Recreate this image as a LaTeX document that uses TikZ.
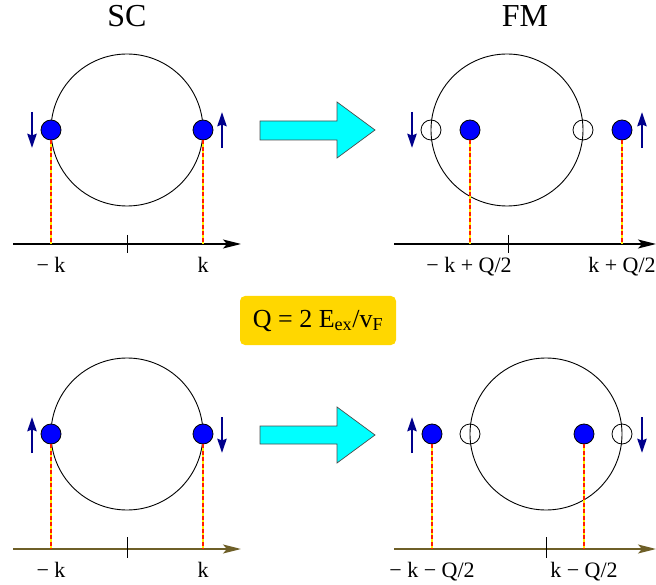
\documentclass[tikz,border=0pt]{standalone}
\usepackage{fontspec}
\setmainfont{Liberation Serif}
\usepackage{tikz}
\usetikzlibrary{arrows.meta,positioning}
\definecolor{spinblue}{RGB}{0,0,140}
\definecolor{ballblue}{RGB}{0,0,255}
\definecolor{gapgold}{RGB}{255,215,0}
\definecolor{axisolive}{RGB}{110,95,40}
\definecolor{dashred}{RGB}{255,30,0}
\definecolor{shiftcyan}{RGB}{0,255,255}

\begin{document}
\begin{tikzpicture}[x=1pt,y=-1pt,
  ball/.style={circle,draw=black,fill=ballblue,line width=0.8pt,
               minimum size=20pt,inner sep=0pt},
  hole/.style={circle,draw=black,line width=0.8pt,
               minimum size=20pt,inner sep=0pt},
  fermi/.style={draw=black,line width=0.9pt},
  spin/.style={-{Stealth[length=14pt,width=9pt,inset=1.5pt]},line width=2.8pt,spinblue},
  axis/.style={-{Stealth[length=18pt,width=9pt,inset=4pt]},line width=1.3pt},
  proj/.style={yellow,line width=1.8pt},
  projd/.style={dashred,line width=1.2pt,dash pattern=on 4pt off 2.5pt},
  bigarrow/.style={fill=shiftcyan,draw=black!70,line width=0.7pt},
  lab/.style={font=\fontsize{22}{24}\selectfont,anchor=base},
  ttl/.style={font=\fontsize{32}{36}\selectfont,anchor=base}
]
\useasboundingbox (0,0) rectangle (656,585);

% titles
\node[ttl] (sc) at (127,27) {SC};
\node[ttl] (fm) at (525,27) {FM};

% SC, upper
\draw[fermi] (127,130) circle (76);
\node[ball] (a1) at (51,130) {};
\node[ball] (a2) at (203,130) {};
\coordinate (ax1s) at (13,244);
\coordinate (ax1e) at (241,244);
\draw[axis] (ax1s) -- (ax1e);
\draw[line width=1pt] (127,235) -- (127,253);
\coordinate (a1p) at (51,244);
\coordinate (a2p) at (203,244);
\draw[proj] (a1.south) -- (a1p);
\draw[projd] (a1.south) -- (a1p);
\draw[proj] (a2.south) -- (a2p);
\draw[projd] (a2.south) -- (a2p);
\coordinate (s1a) at (32,112); \coordinate (s1b) at (32,148);
\coordinate (s2a) at (222,148); \coordinate (s2b) at (222,112);
\draw[spin] (s1a) -- (s1b);
\draw[spin] (s2a) -- (s2b);
\node[lab] (la1) at (51,273) {− k};
\node[lab] (la2) at (203,273) {k};

% shift arrow, upper
\draw[bigarrow] (260,121) -- (337,121) -- (337,102) -- (375,130)
  -- (337,158) -- (337,140) -- (260,140) -- cycle;

% FM, upper
\draw[fermi] (507,130) circle (76);
\node[hole] (h1) at (431,130) {};
\node[hole] (h2) at (583,130) {};
\node[ball] (b1) at (470,130) {};
\node[ball] (b2) at (622,130) {};
\coordinate (ax2s) at (394,244);
\coordinate (ax2e) at (656,244);
\draw[axis] (ax2s) -- (ax2e);
\draw[line width=1pt] (508,235) -- (508,253);
\coordinate (b1p) at (470,244);
\coordinate (b2p) at (622,244);
\draw[proj] (b1.south) -- (b1p);
\draw[projd] (b1.south) -- (b1p);
\draw[proj] (b2.south) -- (b2p);
\draw[projd] (b2.south) -- (b2p);
\coordinate (s3a) at (412,112); \coordinate (s3b) at (412,148);
\coordinate (s4a) at (642,148); \coordinate (s4b) at (642,112);
\draw[spin] (s3a) -- (s3b);
\draw[spin] (s4a) -- (s4b);
\node[lab] (lb1) at (469,273) {− k + Q/2};
\node[lab] (lb2) at (622,273) {k + Q/2};

% momentum shift
\node[fill=gapgold,rounded corners=5pt,minimum width=156pt,minimum height=49pt,
      font=\fontsize{26}{28}\selectfont] (qbox) at (318,320.5)
  {Q = 2 E\textsubscript{ex}/v\textsubscript{F}};

% SC, lower
\draw[fermi] (127,434) circle (76);
\node[ball] (c1) at (51,434) {};
\node[ball] (c2) at (203,434) {};
\coordinate (ax3s) at (13,549);
\coordinate (ax3e) at (241,549);
\draw[axis,axisolive,line width=1.8pt] (ax3s) -- (ax3e);
\draw[line width=1pt] (127,537) -- (127,558);
\coordinate (c1p) at (51,549);
\coordinate (c2p) at (203,549);
\draw[proj] (c1.south) -- (c1p);
\draw[projd] (c1.south) -- (c1p);
\draw[proj] (c2.south) -- (c2p);
\draw[projd] (c2.south) -- (c2p);
\coordinate (s5a) at (32,453); \coordinate (s5b) at (32,417);
\coordinate (s6a) at (222,417); \coordinate (s6b) at (222,453);
\draw[spin] (s5a) -- (s5b);
\draw[spin] (s6a) -- (s6b);
\node[lab] (lc1) at (51,577) {− k};
\node[lab] (lc2) at (203,577) {k};

% shift arrow, lower
\draw[bigarrow] (260,426) -- (337,426) -- (337,407) -- (375,435)
  -- (337,463) -- (337,444) -- (260,444) -- cycle;

% FM, lower
\draw[fermi] (546,434) circle (76);
\node[hole] (k1) at (470,434) {};
\node[hole] (k2) at (622,434) {};
\node[ball] (d1) at (432,434) {};
\node[ball] (d2) at (584,434) {};
\coordinate (ax4s) at (394,549);
\coordinate (ax4e) at (656,549);
\draw[axis,axisolive,line width=1.8pt] (ax4s) -- (ax4e);
\draw[line width=1pt] (546,537) -- (546,558);
\coordinate (d1p) at (432,549);
\coordinate (d2p) at (584,549);
\draw[proj] (d1.south) -- (d1p);
\draw[projd] (d1.south) -- (d1p);
\draw[proj] (d2.south) -- (d2p);
\draw[projd] (d2.south) -- (d2p);
\coordinate (s7a) at (412,453); \coordinate (s7b) at (412,417);
\coordinate (s8a) at (642,417); \coordinate (s8b) at (642,453);
\draw[spin] (s7a) -- (s7b);
\draw[spin] (s8a) -- (s8b);
\node[lab] (ld1) at (432,577) {− k − Q/2};
\node[lab] (ld2) at (584,577) {k − Q/2};

\end{tikzpicture}
\end{document}
